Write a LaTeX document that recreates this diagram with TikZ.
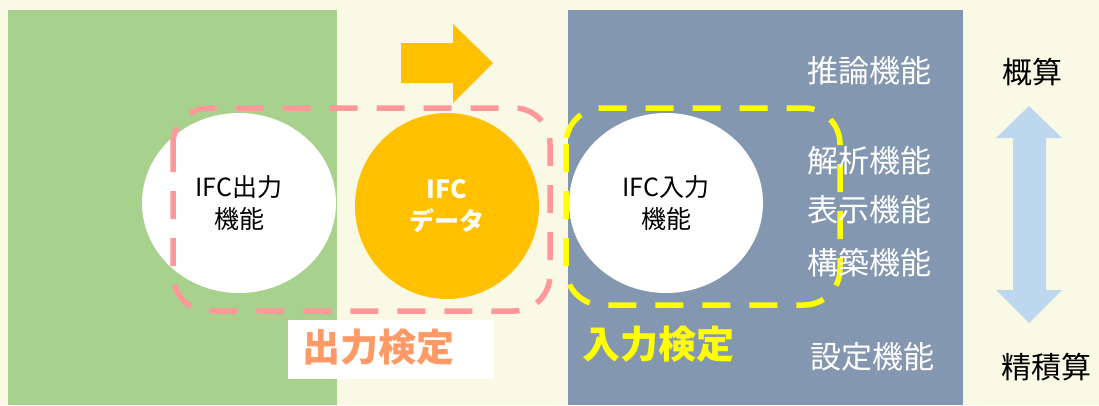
\documentclass[tikz,border=0pt]{standalone}
\usepackage{fontspec}
\setmainfont{Noto Sans CJK JP}
\usetikzlibrary{shapes.geometric}
\definecolor{cream}{HTML}{FAF9E6}
\definecolor{leaf}{HTML}{A9D18E}
\definecolor{slate}{HTML}{8497B0}
\definecolor{gold}{HTML}{FFC000}
\definecolor{pinkdash}{HTML}{FF9999}
\definecolor{orangetxt}{HTML}{FF9966}
\definecolor{yel}{HTML}{FFFF00}
\definecolor{skyblue}{HTML}{BDD7EE}
\tikzset{
  blob/.style={ellipse, inner sep=0pt, align=center, font=\fontsize{25}{32}\selectfont},
  sidelabel/.style={inner sep=0pt, text=white, font=\fontsize{31}{34}\selectfont},
  scalelabel/.style={inner sep=0pt, text=black, font=\fontsize{30}{34}\selectfont},
  checkbox/.style={line width=5.5pt, dash pattern=on 28pt off 19pt, rounded corners=36pt},
}
\begin{document}
\begin{tikzpicture}[x=1pt,y=-1pt]
\useasboundingbox (0,0) rectangle (1099,405);
\fill[cream] (0,0) rectangle (1099,405);
\fill[leaf] (8,10) rectangle (337,405);
\fill[slate] (568,10) rectangle (963,405);
% orange arrow
\fill[gold] (401,43) -- (453,43) -- (453,24) -- (493,63) -- (453,103) -- (453,83) -- (401,83) -- cycle;
% circles
\node[blob, fill=white, minimum width=194pt, minimum height=180pt] (out) at (239,203) {IFC出力\\機能};
\node[blob, fill=gold, text=white, font=\fontsize{25}{32}\selectfont\bfseries, minimum width=184pt, minimum height=186pt] (data) at (447,206) {IFC\\データ};
\node[blob, fill=white, minimum width=194pt, minimum height=180pt] (in) at (666,203) {IFC入力\\機能};
% dashed frames
\draw[checkbox, pinkdash] (173,108) rectangle (550,311);
\draw[checkbox, yel] (566,108) rectangle (840,305);
% labels
\node[fill=white, minimum width=206pt, minimum height=59pt, inner sep=0pt] (outbox) at (391,349.5) {};
\node[inner sep=0pt, text=orangetxt, font=\fontsize{38}{40}\selectfont\bfseries] (outlabel) at (378,347) {出力検定};
\node[inner sep=0pt, text=yel, font=\fontsize{38}{40}\selectfont\bfseries] (inlabel) at (658,344) {入力検定};
\node[sidelabel] (f1) at (869,71) {推論機能};
\node[sidelabel] (f2) at (869,161) {解析機能};
\node[sidelabel] (f3) at (869,210) {表示機能};
\node[sidelabel] (f4) at (869,263) {構築機能};
\node[sidelabel] (f5) at (872,357) {設定機能};
\node[scalelabel] (rough) at (1032,72) {概算};
\node[scalelabel] (fine) at (1046,367) {精積算};
% double arrow
\fill[skyblue] (1029,106) -- (1062,138) -- (1046,138) -- (1046,290) -- (1062,290) -- (1029,323) -- (996,290) -- (1013,290) -- (1013,138) -- (996,138) -- cycle;
\end{tikzpicture}
\end{document}
